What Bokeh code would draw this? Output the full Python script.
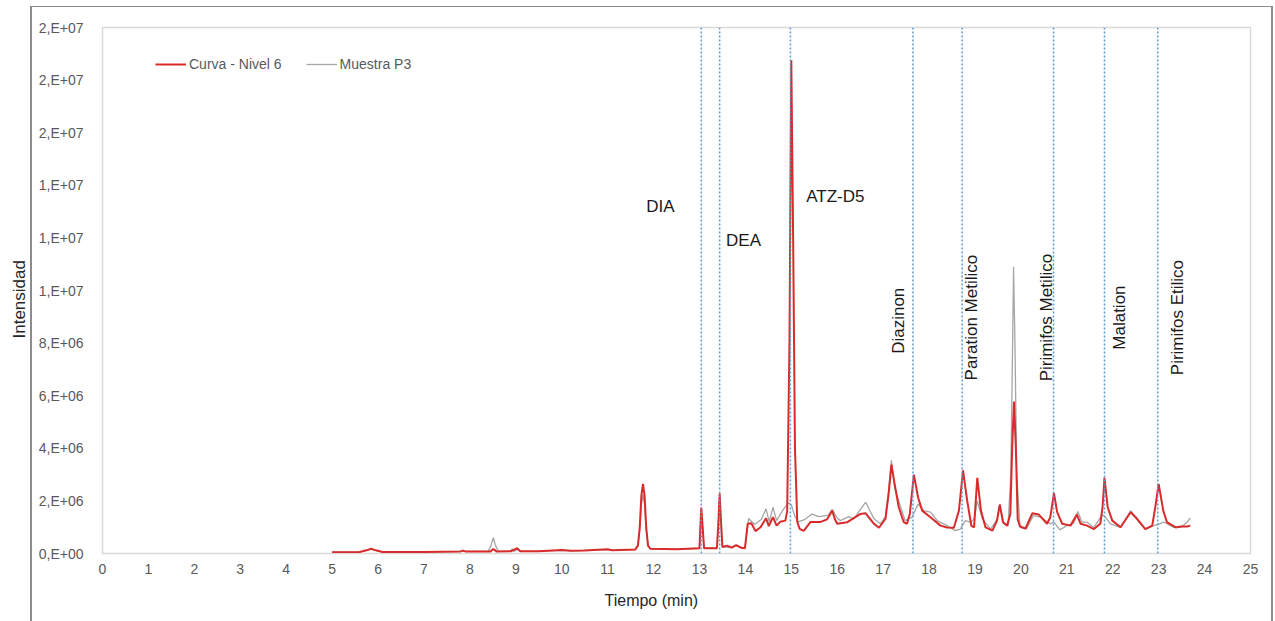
from bokeh.plotting import figure
from bokeh.models import (Span, Label, Legend, LegendItem, FixedTicker, Range1d, Title)
from bokeh.embed import file_html
from bokeh.resources import INLINE
import math

# --- Chromatogram traces: retention time (min) and intensity (counts) ---
curva_t = [5.00, 5.60, 5.75, 5.85, 5.95, 6.10, 7.00, 7.80, 7.85, 7.90,
           8.45, 8.51, 8.58, 8.90, 9.03, 9.10, 9.50, 10.00, 10.20, 10.50,
           11.00, 11.10, 11.60, 11.66, 11.70, 11.735, 11.77, 11.805, 11.84, 11.88,
           11.93, 12.50, 13.00, 13.02, 13.04, 13.07, 13.10, 13.38, 13.41, 13.44,
           13.47, 13.50, 13.60, 13.70, 13.80, 13.90, 13.99, 14.05, 14.13, 14.22,
           14.33, 14.45, 14.51, 14.60, 14.68, 14.76, 14.87, 14.91, 14.96, 15.00,
           15.04, 15.08, 15.13, 15.18, 15.27, 15.42, 15.64, 15.78, 15.85, 15.89,
           15.95, 16.00, 16.22, 16.50, 16.62, 16.80, 16.91, 17.05, 17.12, 17.18,
           17.25, 17.34, 17.45, 17.52, 17.58, 17.67, 17.76, 17.85, 18.03, 18.25,
           18.39, 18.54, 18.65, 18.74, 18.83, 18.92, 18.98, 19.05, 19.13, 19.23,
           19.38, 19.48, 19.54, 19.61, 19.70, 19.77, 19.81, 19.85, 19.89, 19.93,
           19.98, 20.10, 20.25, 20.39, 20.57, 20.64, 20.72, 20.79, 20.90, 21.08,
           21.22, 21.30, 21.44, 21.59, 21.73, 21.78, 21.82, 21.89, 21.99, 22.17,
           22.39, 22.53, 22.71, 22.86, 22.93, 23.00, 23.10, 23.18, 23.37, 23.48,
           23.62, 23.69]
curva_i = [0.05e6, 0.06e6, 0.12e6, 0.18e6, 0.12e6, 0.06e6, 0.06e6, 0.08e6, 0.11e6, 0.08e6,
           0.08e6, 0.17e6, 0.08e6, 0.09e6, 0.20e6, 0.09e6, 0.09e6, 0.13e6, 0.10e6, 0.11e6,
           0.16e6, 0.12e6, 0.15e6, 0.30e6, 1.00e6, 2.20e6, 2.65e6, 2.20e6, 1.00e6, 0.30e6,
           0.18e6, 0.16e6, 0.20e6, 1.00e6, 1.75e6, 1.00e6, 0.20e6, 0.20e6, 1.10e6, 2.28e6,
           1.20e6, 0.25e6, 0.30e6, 0.22e6, 0.32e6, 0.22e6, 0.20e6, 1.13e6, 1.15e6, 0.85e6,
           1.00e6, 1.34e6, 1.04e6, 1.38e6, 1.06e6, 1.21e6, 1.25e6, 1.60e6, 8.00e6, 18.75e6,
           12.0e6, 4.00e6, 1.20e6, 0.94e6, 0.86e6, 1.20e6, 1.20e6, 1.30e6, 1.50e6, 1.63e6,
           1.30e6, 1.13e6, 1.19e6, 1.50e6, 1.53e6, 1.13e6, 0.98e6, 1.32e6, 2.27e6, 3.38e6,
           2.65e6, 1.76e6, 1.19e6, 1.13e6, 1.50e6, 3.00e6, 2.14e6, 1.63e6, 1.38e6, 1.06e6,
           0.99e6, 0.98e6, 1.63e6, 3.16e6, 2.01e6, 1.06e6, 0.99e6, 2.88e6, 1.63e6, 0.99e6,
           0.87e6, 1.25e6, 1.86e6, 1.19e6, 1.06e6, 1.50e6, 4.00e6, 5.78e6, 4.00e6, 1.30e6,
           1.03e6, 0.95e6, 1.53e6, 1.48e6, 1.13e6, 1.38e6, 2.29e6, 1.57e6, 1.13e6, 1.06e6,
           1.48e6, 1.13e6, 1.06e6, 0.93e6, 1.13e6, 1.80e6, 2.88e6, 1.76e6, 1.25e6, 1.00e6,
           1.57e6, 1.32e6, 0.93e6, 1.06e6, 1.80e6, 2.65e6, 1.63e6, 1.19e6, 0.99e6, 1.03e6,
           1.03e6, 1.06e6]

muestra_t = [5.00, 5.60, 5.75, 5.85, 5.95, 6.10, 7.00, 7.80, 8.40, 8.46,
             8.51, 8.56, 8.62, 8.88, 8.92, 8.96, 9.03, 9.10, 9.50, 10.00,
             10.20, 11.00, 11.10, 11.60, 11.66, 11.70, 11.735, 11.77, 11.805, 11.84,
             11.88, 11.93, 12.50, 13.00, 13.02, 13.04, 13.07, 13.10, 13.38, 13.41,
             13.44, 13.47, 13.50, 13.70, 13.80, 13.99, 14.07, 14.20, 14.35, 14.45,
             14.52, 14.60, 14.68, 14.80, 14.93, 15.00, 15.08, 15.15, 15.30, 15.45,
             15.60, 15.80, 15.89, 16.00, 16.07, 16.25, 16.36, 16.62, 16.80, 16.94,
             17.05, 17.12, 17.18, 17.25, 17.36, 17.48, 17.63, 17.76, 17.89, 18.03,
             18.18, 18.39, 18.57, 18.68, 18.79, 18.90, 18.98, 19.05, 19.16, 19.34,
             19.48, 19.54, 19.63, 19.72, 19.78, 19.82, 19.84, 19.87, 19.91, 19.98,
             20.12, 20.27, 20.43, 20.64, 20.72, 20.85, 21.00, 21.15, 21.24, 21.33,
             21.44, 21.59, 21.77, 21.84, 21.95, 22.17, 22.39, 22.57, 22.71, 22.90,
             23.12, 23.33, 23.48, 23.62, 23.69]
muestra_i = [0.05e6, 0.06e6, 0.12e6, 0.17e6, 0.12e6, 0.06e6, 0.06e6, 0.08e6, 0.08e6, 0.30e6,
             0.60e6, 0.30e6, 0.08e6, 0.08e6, 0.18e6, 0.08e6, 0.15e6, 0.08e6, 0.09e6, 0.12e6,
             0.10e6, 0.15e6, 0.12e6, 0.15e6, 0.30e6, 0.90e6, 1.85e6, 2.24e6, 1.85e6, 0.90e6,
             0.30e6, 0.18e6, 0.16e6, 0.20e6, 0.90e6, 1.60e6, 0.90e6, 0.20e6, 0.20e6, 1.00e6,
             2.15e6, 1.10e6, 0.25e6, 0.22e6, 0.30e6, 0.20e6, 1.33e6, 1.10e6, 1.30e6, 1.70e6,
             1.20e6, 1.76e6, 1.25e6, 1.60e6, 1.93e6, 1.85e6, 1.40e6, 1.20e6, 1.30e6, 1.50e6,
             1.40e6, 1.45e6, 1.68e6, 1.35e6, 1.25e6, 1.40e6, 1.32e6, 1.95e6, 1.32e6, 1.13e6,
             1.40e6, 2.40e6, 3.54e6, 2.50e6, 1.88e6, 1.25e6, 1.38e6, 1.88e6, 1.63e6, 1.57e6,
             1.25e6, 1.06e6, 0.87e6, 0.93e6, 1.25e6, 1.19e6, 1.30e6, 2.00e6, 1.32e6, 0.93e6,
             1.30e6, 1.88e6, 1.13e6, 1.05e6, 3.00e6, 8.00e6, 10.9e6, 8.00e6, 3.00e6, 0.99e6,
             0.93e6, 1.44e6, 1.38e6, 1.13e6, 1.19e6, 0.90e6, 1.06e6, 1.15e6, 1.60e6, 1.19e6,
             1.19e6, 0.99e6, 1.47e6, 1.38e6, 1.13e6, 0.99e6, 1.63e6, 1.19e6, 0.93e6, 1.06e6,
             1.19e6, 0.99e6, 0.99e6, 1.19e6, 1.35e6]

# --- Compound retention times (dashed markers) ---
compuestos = ["DIA", "DEA", "ATZ-D5", "Diazinon", "Paration Metilico",
              "Pirimifos Metilico", "Malation", "Pirimifos Etilico"]
tiempos_ret = [13.04, 13.44, 14.98, 17.65, 18.72, 20.71, 21.82, 22.98]

# --- Axis ticks ---
x_ticks = list(range(0, 26))
y_ticks = [0, 2e6, 4e6, 6e6, 8e6, 10e6, 12e6, 14e6, 16e6, 18e6, 20e6]
y_tick_labels = ["0,E+00", "2,E+06", "4,E+06", "6,E+06", "8,E+06", "1,E+07",
                 "1,E+07", "1,E+07", "2,E+07", "2,E+07", "2,E+07"]

FONT = "Liberation Sans"
GRAY_TXT = "#595959"
BORDER = "#8c8c8c"

# chart-area border drawn as CSS background strokes behind a transparent canvas
chart_border = ", ".join([f"linear-gradient({BORDER}, {BORDER})"] * 3)
p = figure(width=1275, height=621, output_backend="svg", toolbar_location=None,
           x_range=Range1d(0, 25), y_range=Range1d(0, 20e6),
           min_border_left=102, min_border_right=25,
           min_border_top=27, min_border_bottom=68,
           styles={"background-color": "white",
                   "background-image": chart_border,
                   "background-repeat": "no-repeat",
                   "background-size": "2px 621px, 1243px 1px, 2px 621px",
                   "background-position": "30px 6px, 30px 6px, 1271px 6px"})
p.background_fill_color = "white"
p.border_fill_color = None
p.outline_line_color = "#d9d9d9"
p.outline_line_width = 1.5
p.xgrid.visible = False
p.ygrid.visible = False

# x axis
xa = p.xaxis[0]
xa.ticker = FixedTicker(ticks=x_ticks)
xa.axis_line_color = "#d9d9d9"
xa.major_tick_line_color = None
xa.minor_tick_line_color = None
xa.major_label_text_font = FONT
xa.major_label_text_font_size = "14px"
xa.major_label_text_color = GRAY_TXT
xa.major_label_standoff = 4

# y axis
ya = p.yaxis[0]
ya.ticker = FixedTicker(ticks=y_ticks)
ya.major_label_overrides = {v: s for v, s in zip(y_ticks, y_tick_labels)}
ya.axis_line_color = None
ya.major_tick_line_color = None
ya.minor_tick_line_color = None
ya.major_label_text_font = FONT
ya.major_label_text_font_size = "14px"
ya.major_label_text_color = GRAY_TXT
ya.major_label_standoff = 13

# axis titles
p.add_layout(Title(text="Tiempo (min)", align="left", offset=502, standoff=26,
                   text_font=FONT, text_font_size="16px", text_font_style="normal",
                   text_color="#262626"), "below")
p.add_layout(Title(text="Intensidad", align="left", offset=215, standoff=13,
                   text_font=FONT, text_font_size="17px", text_font_style="normal",
                   text_color="#262626"), "left")

# retention-time markers
for t in tiempos_ret:
    p.add_layout(Span(location=t, dimension="height", line_color="#5b9bd5",
                      line_dash="2 2", line_width=1.5))

# traces (sample underneath, calibration curve on top)
r_muestra = p.line(muestra_t, muestra_i, line_color="#a6a6a6", line_width=1.3)
r_curva = p.line(curva_t, curva_i, line_color="#d92b2b", line_width=2)

# compound labels
horiz = {"DIA": (12.15, 13.2e6), "DEA": (13.96, 11.9e6), "ATZ-D5": (15.96, 13.57e6)}
vert = {"Diazinon": (17.33, 8.85e6), "Paration Metilico": (18.92, 8.97e6),
        "Pirimifos Metilico": (20.56, 8.97e6), "Malation": (22.15, 8.97e6),
        "Pirimifos Etilico": (23.41, 8.97e6)}
for name in compuestos:
    if name in horiz:
        x, y = horiz[name]
        ang = 0
    else:
        x, y = vert[name]
        ang = math.pi / 2
    p.add_layout(Label(x=x, y=y, text=name, angle=ang, text_align="center",
                       text_baseline="middle", text_font=FONT,
                       text_font_size="17px", text_color="#1a1a1a"))

# legend
legend = Legend(items=[LegendItem(label="Curva - Nivel 6", renderers=[r_curva]),
                       LegendItem(label="Muestra P3", renderers=[r_muestra])],
                orientation="horizontal", location=(53, 479),
                border_line_color=None, background_fill_alpha=0,
                label_text_font=FONT, label_text_font_size="14px",
                label_text_color=GRAY_TXT, glyph_width=31, glyph_height=20,
                label_standoff=3, spacing=24, padding=0, margin=0)
p.add_layout(legend)

open("out.html", "w").write(file_html(p, INLINE))
